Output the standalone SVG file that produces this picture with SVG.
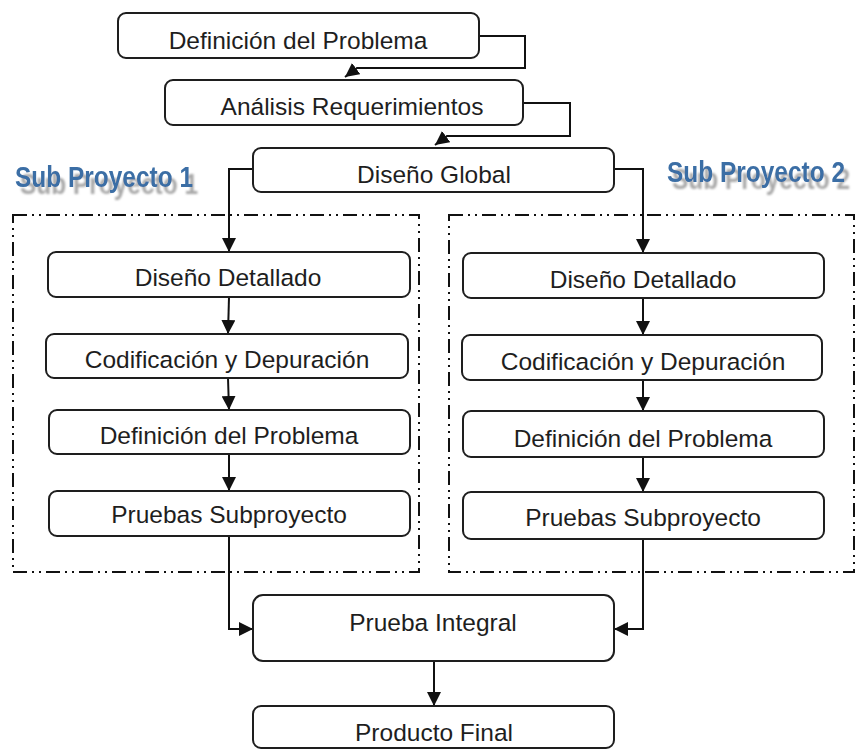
<svg xmlns="http://www.w3.org/2000/svg" width="859" height="749" viewBox="0 0 859 749">
<defs>
<style>
.box{fill:#fff;stroke:#1e1e1e;stroke-width:2}
.lbl{font-family:"Liberation Sans",Arial,sans-serif;font-size:24.5px;fill:#1e1e1e;text-anchor:middle}
.con{fill:none;stroke:#111;stroke-width:2;marker-end:url(#arr)}
.grp{fill:none;stroke:#111;stroke-width:2;stroke-dasharray:14 5 2 5 2 5}
.sub{font-family:"Liberation Sans",Arial,sans-serif;font-weight:bold;font-size:29px;fill:#3b6ea5;filter:url(#shadow)}
</style>
<marker id="arr" markerUnits="userSpaceOnUse" markerWidth="14" markerHeight="14" viewBox="0 0 12 12" refX="12" refY="6" orient="auto">
<path d="M0,0 L12,6 L0,12 z" fill="#111"/>
</marker>
<filter id="shadow" x="-5%" y="-20%" width="115%" height="160%">
<feOffset in="SourceAlpha" dx="5" dy="7" result="off"/>
<feGaussianBlur in="off" stdDeviation="0.8" result="bl"/>
<feFlood flood-color="#a8a8a8"/>
<feComposite in2="bl" operator="in" result="sh"/>
<feMerge><feMergeNode in="sh"/><feMergeNode in="SourceGraphic"/></feMerge>
</filter>
</defs>
<rect width="859" height="749" fill="#fff"/>

<g id="labels">
<text class="sub" x="15" y="187" textLength="178" lengthAdjust="spacingAndGlyphs">Sub Proyecto 1</text>
<text class="sub" x="667" y="182" textLength="178" lengthAdjust="spacingAndGlyphs">Sub Proyecto 2</text>
</g>

<g id="groups">
<rect class="grp" x="13" y="215" width="406" height="357"/>
<rect class="grp" x="449" y="215" width="405" height="357"/>
</g>

<g id="connectors">
<path class="con" d="M479,36 H525 V68 H357 L345,77"/>
<path class="con" d="M523,103 H570 V136 H447 L435,145"/>
<path class="con" d="M253,169 H229 V252"/>
<path class="con" d="M614,169 H643 V253"/>
<path class="con" d="M229,297 L228,334"/>
<path class="con" d="M228,378 L229,410"/>
<path class="con" d="M229,454 V491"/>
<path class="con" d="M643,298 V335"/>
<path class="con" d="M643,380 V411"/>
<path class="con" d="M643,457 V492"/>
<path class="con" d="M229,536 V629 H253"/>
<path class="con" d="M643,539 V629 H614"/>
<path class="con" d="M434,661 V706"/>
</g>

<g id="n1"><rect class="box" x="118" y="13" width="361" height="45" rx="8"/><text class="lbl" x="298" y="49">Definición del Problema</text></g>
<g id="n2"><rect class="box" x="165" y="80" width="358" height="45" rx="8"/><text class="lbl" x="352" y="115">Análisis Requerimientos</text></g>
<g id="n3"><rect class="box" x="253" y="148" width="361" height="44" rx="8"/><text class="lbl" x="434" y="183">Diseño Global</text></g>

<g id="l1"><rect class="box" x="48" y="252" width="362" height="45" rx="8"/><text class="lbl" x="228" y="286">Diseño Detallado</text></g>
<g id="l2"><rect class="box" x="46" y="334" width="362" height="44" rx="8"/><text class="lbl" x="227" y="368">Codificación y Depuración</text></g>
<g id="l3"><rect class="box" x="49" y="410" width="361" height="44" rx="8"/><text class="lbl" x="229" y="444">Definición del Problema</text></g>
<g id="l4"><rect class="box" x="49" y="491" width="361" height="45" rx="8"/><text class="lbl" x="229" y="523">Pruebas Subproyecto</text></g>

<g id="r1"><rect class="box" x="463" y="253" width="361" height="45" rx="8"/><text class="lbl" x="643" y="288">Diseño Detallado</text></g>
<g id="r2"><rect class="box" x="462" y="335" width="360" height="45" rx="8"/><text class="lbl" x="643" y="370">Codificación y Depuración</text></g>
<g id="r3"><rect class="box" x="463" y="411" width="361" height="46" rx="8"/><text class="lbl" x="643" y="447">Definición del Problema</text></g>
<g id="r4"><rect class="box" x="463" y="492" width="361" height="47" rx="8"/><text class="lbl" x="643" y="526">Pruebas Subproyecto</text></g>

<g id="n4"><rect class="box" x="253" y="595" width="361" height="66" rx="10"/><text class="lbl" x="433" y="631">Prueba Integral</text></g>
<g id="n5"><rect class="box" x="253" y="706" width="361" height="42" rx="8"/><text class="lbl" x="434" y="741">Producto Final</text></g>
</svg>
